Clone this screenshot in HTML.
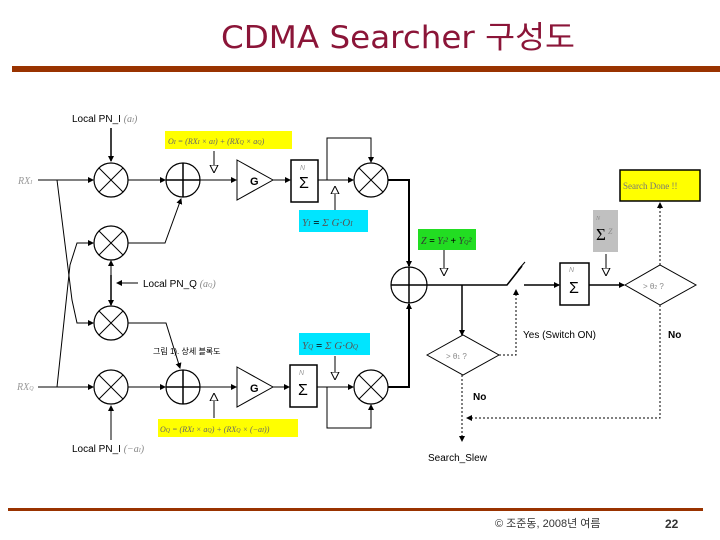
<!DOCTYPE html>
<html><head><meta charset="utf-8"><style>
html,body{margin:0;padding:0;background:#fff;}
svg{display:block;}
text{font-family:"Liberation Sans","Noto Sans CJK KR",sans-serif;}
.s{font-family:"Liberation Serif",serif;font-style:italic;}
</style></head><body>
<svg width="720" height="540" viewBox="0 0 720 540" xmlns="http://www.w3.org/2000/svg">
<defs>
<marker id="a" markerWidth="6" markerHeight="6" refX="5" refY="3" orient="auto" markerUnits="userSpaceOnUse"><path d="M0,0 L6,3 L0,6 z" fill="#000"/></marker>
<marker id="h" markerWidth="8" markerHeight="10" refX="8" refY="5" orient="auto" markerUnits="userSpaceOnUse"><path d="M0,1 L8,5 L0,9 z" fill="#fff" stroke="#000" stroke-width="1"/></marker>
</defs>
<text x="221" y="48" font-size="31" textLength="354" lengthAdjust="spacingAndGlyphs" fill="#8b1538" style="font-family:'DejaVu Sans','Noto Sans CJK KR',sans-serif">CDMA Searcher 구성도</text>
<rect x="12" y="66" width="708" height="6" fill="#993300"/>
<rect x="8" y="508" width="695" height="3" fill="#993300"/>
<text x="495" y="527" font-size="11" fill="#333">© 조준동, 2008년 여름</text>
<text x="665" y="528" font-size="12" font-weight="bold" fill="#333">22</text>

<g stroke="#000" stroke-width="1.5" fill="none">
<g stroke-width="1.2">
<circle cx="111" cy="180" r="17"/><path d="M99,168 L123,192 M123,168 L99,192" stroke-width="1"/>
<circle cx="111" cy="243" r="17"/><path d="M99,231 L123,255 M123,231 L99,255" stroke-width="1"/>
<circle cx="111" cy="323" r="17"/><path d="M99,311 L123,335 M123,311 L99,335" stroke-width="1"/>
<circle cx="111" cy="387" r="17"/><path d="M99,375 L123,399 M123,375 L99,399" stroke-width="1"/>
<circle cx="371" cy="180" r="17"/><path d="M359,168 L383,192 M383,168 L359,192" stroke-width="1"/>
<circle cx="371" cy="387" r="17"/><path d="M359,375 L383,399 M383,375 L359,399" stroke-width="1"/>
<circle cx="183" cy="180" r="17"/><path d="M166,180 H200 M183,163 V197" stroke-width="1.5"/>
<circle cx="183" cy="387" r="17"/><path d="M166,387 H200 M183,370 V404" stroke-width="1.5"/>
<circle cx="409" cy="285" r="18"/><path d="M391,285 H427 M409,267 V303" stroke-width="1.5"/>
</g>
<path d="M237,160 L273,180 L237,200 Z" stroke-width="1"/>
<path d="M237,367 L273,387 L237,407 Z" stroke-width="1"/>
<rect x="291" y="160" width="27" height="42"/>
<rect x="290" y="365" width="27" height="42"/>
<rect x="560" y="263" width="29" height="42"/>
<path d="M111,128 V161" marker-end="url(#a)"/>
<path d="M38,180 H93" stroke-width="1" marker-end="url(#a)"/>
<path d="M128,180 H165" stroke-width="1" marker-end="url(#a)"/>
<path d="M200,180 H236" stroke-width="1" marker-end="url(#a)"/>
<path d="M273,180 H290" stroke-width="1" marker-end="url(#a)"/>
<path d="M318,180 H353" stroke-width="1" marker-end="url(#a)"/>
<path d="M327,180 V138 H371 V162" stroke-width="1" marker-end="url(#a)"/>
<path d="M128,243 H165 L181,199" stroke-width="1" marker-end="url(#a)"/>
<path d="M388,180 H409 V266" stroke-width="2" marker-end="url(#a)"/>
<path d="M57,180 L72,300 L77,323 H93" stroke-width="1" marker-end="url(#a)"/>
<path d="M57,387 L70,265 L77,243 H93" stroke-width="1" marker-end="url(#a)"/>
<path d="M111,275 V261" stroke-width="1" marker-end="url(#a)"/>
<path d="M111,275 V305" marker-end="url(#a)"/>
<path d="M138,283 H117" stroke-width="1" marker-end="url(#a)"/>
<path d="M38,387 H93" stroke-width="1" marker-end="url(#a)"/>
<path d="M128,387 H165" stroke-width="1" marker-end="url(#a)"/>
<path d="M200,387 H236" stroke-width="1" marker-end="url(#a)"/>
<path d="M273,387 H289" stroke-width="1" marker-end="url(#a)"/>
<path d="M317,387 H353" stroke-width="1" marker-end="url(#a)"/>
<path d="M327,387 V428 H371 V405" stroke-width="1" marker-end="url(#a)"/>
<path d="M128,323 H166 L180,368" stroke-width="1" marker-end="url(#a)"/>
<path d="M111,440 V406" stroke-width="1" marker-end="url(#a)"/>
<path d="M388,387 H409 V304" stroke-width="2" marker-end="url(#a)"/>
<path d="M214,151 V173" stroke-width="1" marker-end="url(#h)"/>
<path d="M335,210 V186" stroke-width="1" marker-end="url(#h)"/>
<path d="M214,418 V393" stroke-width="1" marker-end="url(#h)"/>
<path d="M335,356 V380" stroke-width="1" marker-end="url(#h)"/>
<path d="M444,250 V276" stroke-width="1" marker-end="url(#h)"/>
<path d="M606,254 V276" stroke-width="1" marker-end="url(#h)"/>
<path d="M427,285 H507 L522,266" stroke-width="1.5"/>
<path d="M518,270 L525,262" stroke-width="1"/>
<path d="M524,285 H559" stroke-width="1.5" marker-end="url(#a)"/>
<path d="M589,285 H624" stroke-width="1.5" marker-end="url(#a)"/>
<path d="M462,285 V335" stroke-width="1.5" marker-end="url(#a)"/>
<path d="M625,285 L660,265 L696,285 L660,305 Z" stroke-width="1"/>
<path d="M427,355 L463,335 L499,355 L463,375 Z" stroke-width="1"/>
<g stroke-dasharray="2,2" stroke-width="1">
<path d="M499,355 H516 V290" marker-end="url(#a)"/>
<path d="M660,265 V203" marker-end="url(#a)"/>
<path d="M660,305 V418 H467" marker-end="url(#a)"/>
<path d="M462,375 V441" marker-end="url(#a)"/>
</g>
</g>
<rect x="165" y="131" width="127" height="18" fill="#ffff00"/>
<text x="168" y="144" font-size="8" class="s" fill="#666">O<tspan font-size="6">I</tspan> = (RX<tspan font-size="6">I</tspan> × a<tspan font-size="6">I</tspan>) + (RX<tspan font-size="6">Q</tspan> × a<tspan font-size="6">Q</tspan>)</text>
<rect x="299" y="210" width="69" height="22" fill="#00e5ff"/>
<text x="302" y="226" font-size="11" class="s" fill="#555">Y<tspan font-size="7">I</tspan> <tspan fill="#000" font-weight="bold" font-style="normal">=</tspan> Σ G·O<tspan font-size="7">I</tspan></text>
<rect x="158" y="419" width="140" height="18" fill="#ffff00"/>
<text x="160" y="432" font-size="8" class="s" fill="#666">O<tspan font-size="6">Q</tspan> = (RX<tspan font-size="6">I</tspan> × a<tspan font-size="6">Q</tspan>) + (RX<tspan font-size="6">Q</tspan> × (−a<tspan font-size="6">I</tspan>))</text>
<rect x="299" y="333" width="71" height="22" fill="#00e5ff"/>
<text x="302" y="349" font-size="11" class="s" fill="#555">Y<tspan font-size="7">Q</tspan> <tspan fill="#000" font-weight="bold" font-style="normal">=</tspan> Σ G·O<tspan font-size="7">Q</tspan></text>
<rect x="418" y="229" width="58" height="21" fill="#22dd22"/>
<text x="421" y="244" font-size="10" class="s" fill="#333">Z <tspan font-weight="bold" fill="#000">=</tspan> Y<tspan font-size="6">I</tspan>² <tspan font-weight="bold" fill="#000">+</tspan> Y<tspan font-size="6">Q</tspan>²</text>
<rect x="593" y="210" width="25" height="42" fill="#c0c0c0"/>
<text x="596" y="240" font-size="17" fill="#000" style="font-family:'Liberation Serif',serif">Σ</text>
<text x="608" y="234" font-size="8" class="s" fill="#888">Z</text>
<text x="596" y="220" font-size="6" class="s" fill="#888">N</text>
<rect x="620" y="170" width="80" height="31" fill="#ffff00" stroke="#000" stroke-width="1.5"/>
<text x="623" y="189" font-size="9" style="font-family:'Liberation Serif',serif" fill="#777">Search Done !!</text>
<g font-size="16" text-anchor="middle" style="font-family:'Liberation Serif',serif" fill="#000">
<text x="304" y="188">Σ</text><text x="303" y="395">Σ</text><text x="574" y="293">Σ</text>
</g>
<g font-size="7" class="s" fill="#999"><text x="300" y="170">N</text><text x="299" y="375">N</text><text x="569" y="272">N</text></g>
<text x="250" y="185" font-size="11" font-weight="bold">G</text>
<text x="250" y="392" font-size="11" font-weight="bold">G</text>
<text x="72" y="122" font-size="10">Local PN_I <tspan class="s" fill="#888">(a<tspan font-size="6">I</tspan>)</tspan></text>
<text x="143" y="287" font-size="10">Local PN_Q <tspan class="s" fill="#888">(a<tspan font-size="6">Q</tspan>)</tspan></text>
<text x="72" y="452" font-size="10">Local PN_I <tspan class="s" fill="#888">(−a<tspan font-size="6">I</tspan>)</tspan></text>
<text x="18" y="184" font-size="10" class="s" fill="#999">RX<tspan font-size="6">I</tspan></text>
<text x="17" y="390" font-size="10" class="s" fill="#999">RX<tspan font-size="6">Q</tspan></text>
<text x="153" y="354" font-size="8">그림 1). 상세 블록도</text>
<text x="643" y="289" font-size="8" fill="#888">&gt; θ<tspan font-size="5">2</tspan> ?</text>
<text x="446" y="359" font-size="8" fill="#888">&gt; θ<tspan font-size="5">1</tspan> ?</text>
<text x="523" y="338" font-size="10">Yes (Switch ON)</text>
<text x="668" y="338" font-size="10" font-weight="bold">No</text>
<text x="473" y="400" font-size="10" font-weight="bold">No</text>
<text x="428" y="461" font-size="10">Search_Slew</text>
</svg>
</body></html>
